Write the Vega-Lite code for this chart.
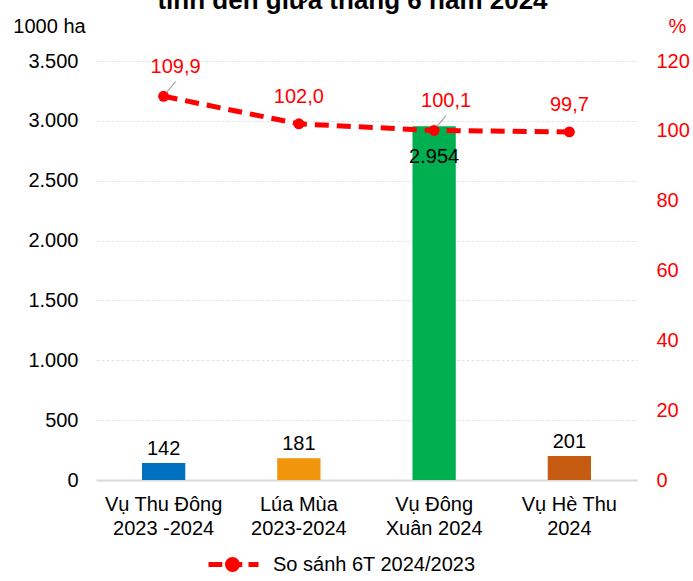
{
  "$schema": "https://vega.github.io/schema/vega-lite/v6.json",
  "width": 541,
  "height": 419,
  "padding": {"left": 12, "top": -12, "right": 3, "bottom": 0},
  "background": "white",
  "title": {
    "text": "tính đến giữa tháng 6 năm 2024",
    "font": "Liberation Sans",
    "fontSize": 26,
    "fontWeight": "bold",
    "color": "black",
    "anchor": "middle",
    "offset": 2,
    "dx": -14
  },
  "config": {
    "locale": {"number": {"decimal": ",", "thousands": ".", "grouping": [3], "currency": ["", ""]}},
    "font": "Liberation Sans",
    "view": {"stroke": null}
  },
  "data": {
    "values": [
      {"cat": "Vụ Thu Đông|2023 -2024", "area": 142, "pct": 109.9, "leader": true},
      {"cat": "Lúa Mùa|2023-2024", "area": 181, "pct": 102.0, "leader": false},
      {"cat": "Vụ Đông|Xuân 2024", "area": 2954, "pct": 100.1, "leader": true},
      {"cat": "Vụ Hè Thu|2024", "area": 201, "pct": 99.7, "leader": false}
    ]
  },
  "encoding": {
    "x": {
      "field": "cat",
      "type": "nominal",
      "sort": null,
      "scale": {"paddingInner": 0.68, "paddingOuter": 0.34},
      "axis": {
        "title": null,
        "labelAngle": 0,
        "labelExpr": "split(datum.label, '|')",
        "labelFontSize": 20,
        "labelColor": "black",
        "labelPadding": 14,
        "labelLineHeight": 24,
        "ticks": false,
        "domainColor": "#d9d9d9",
        "domainWidth": 2
      }
    }
  },
  "layer": [
    {
      "layer": [
        {
          "mark": {"type": "bar"},
          "encoding": {
            "y": {
              "field": "area",
              "type": "quantitative",
              "scale": {"domain": [0, 3500]},
              "axis": {
                "title": "1000 ha",
                "titleAngle": 0,
                "titleX": -47,
                "titleY": -35,
                "titleAlign": "center",
                "titleBaseline": "middle",
                "titleFontSize": 20,
                "titleFontWeight": "normal",
                "titleColor": "black",
                "format": ",.0f",
                "values": [0, 500, 1000, 1500, 2000, 2500, 3000, 3500],
                "labelFontSize": 20,
                "labelColor": "black",
                "labelPadding": 18,
                "ticks": false,
                "domain": false,
                "gridColor": "#e3e3e3",
                "gridDash": [3, 2]
              }
            },
            "color": {
              "field": "cat",
              "type": "nominal",
              "sort": null,
              "scale": {
                "domain": ["Vụ Thu Đông|2023 -2024", "Lúa Mùa|2023-2024", "Vụ Đông|Xuân 2024", "Vụ Hè Thu|2024"],
                "range": ["#0070C0", "#F0950C", "#00B050", "#C55A11"]
              },
              "legend": null
            }
          }
        },
        {
          "transform": [{"filter": "datum.area < 1000"}],
          "mark": {"type": "text", "fontSize": 20, "color": "black", "baseline": "bottom", "dy": -4},
          "encoding": {
            "y": {"field": "area", "type": "quantitative"},
            "text": {"field": "area", "type": "quantitative", "format": ",.0f"}
          }
        },
        {
          "transform": [{"filter": "datum.area >= 1000"}],
          "mark": {"type": "text", "fontSize": 20, "color": "black", "baseline": "middle", "dy": 31},
          "encoding": {
            "y": {"field": "area", "type": "quantitative"},
            "text": {"field": "area", "type": "quantitative", "format": ",.0f"}
          }
        }
      ]
    },
    {
      "layer": [
        {
          "mark": {"type": "line", "strokeWidth": 5, "strokeDash": [14, 8], "point": {"filled": true, "size": 120, "color": "#FF0000"}},
          "encoding": {
            "y": {
              "field": "pct",
              "type": "quantitative",
              "scale": {"domain": [0, 120]},
              "axis": {
                "orient": "right",
                "title": "%",
                "titleAngle": 0,
                "titleX": 40,
                "titleY": -35,
                "titleAlign": "center",
                "titleBaseline": "middle",
                "titleFontSize": 20,
                "titleFontWeight": "normal",
                "titleColor": "#FF0000",
                "values": [0, 20, 40, 60, 80, 100, 120],
                "labelFontSize": 20,
                "labelColor": "#FF0000",
                "labelPadding": 19,
                "ticks": false,
                "domain": false,
                "grid": false
              }
            },
            "color": {
              "datum": "So sánh 6T 2024/2023",
              "scale": {"range": ["#FF0000"]},
              "legend": {
                "title": null,
                "orient": "none",
                "legendX": 110,
                "legendY": 476,
                "direction": "horizontal",
                "labelFontSize": 20,
                "labelColor": "black",
                "labelLimit": 400,
                "symbolType": "M-1,0H-0.45M-0.2,0H0.35M0.6,0H1M0.16,0A0.2,0.2 0 1,1 -0.24,0A0.2,0.2 0 1,1 0.16,0Z",
                "symbolSize": 2500,
                "symbolStrokeWidth": 5,
                "symbolStrokeColor": "#FF0000",
                "symbolFillColor": "#FF0000",
                "labelOffset": 12
              }
            }
          }
        },
        {
          "transform": [{"filter": "datum.leader"}],
          "mark": {"type": "rule", "color": "#a6a6a6", "strokeWidth": 1.2, "yOffset": -4, "xOffset": 3, "x2Offset": 12, "y2Offset": -15},
          "encoding": {
            "y": {"field": "pct", "type": "quantitative"},
            "x2": {"field": "cat"},
            "y2": {"field": "pct"}
          }
        },
        {
          "transform": [{"filter": "!datum.leader"}],
          "mark": {"type": "text", "fontSize": 20, "color": "#FF0000", "baseline": "middle", "dy": -27},
          "encoding": {
            "y": {"field": "pct", "type": "quantitative"},
            "text": {"field": "pct", "type": "quantitative", "format": ".1f"}
          }
        },
        {
          "transform": [{"filter": "datum.leader"}],
          "mark": {"type": "text", "fontSize": 20, "color": "#FF0000", "baseline": "middle", "dy": -29, "dx": 12},
          "encoding": {
            "y": {"field": "pct", "type": "quantitative"},
            "text": {"field": "pct", "type": "quantitative", "format": ".1f"}
          }
        }
      ]
    }
  ],
  "resolve": {"scale": {"y": "independent", "color": "independent"}}
}
